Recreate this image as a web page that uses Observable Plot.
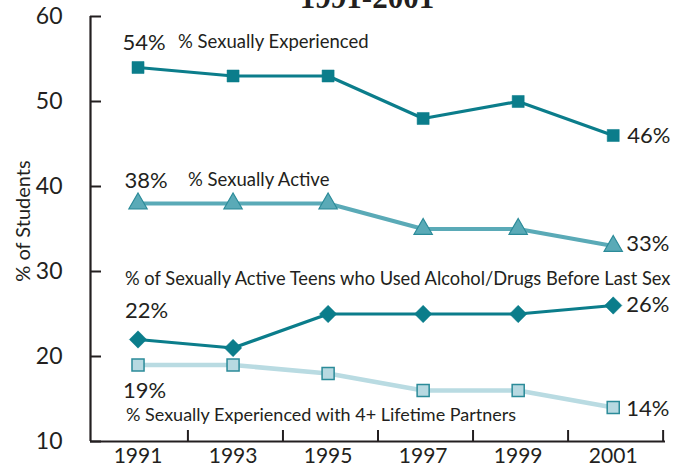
<!DOCTYPE html>
<html>
<head>
<meta charset="utf-8">
<script src="https://cdn.jsdelivr.net/npm/d3@7"></script>
<script src="https://cdn.jsdelivr.net/npm/@observablehq/plot@0.6"></script>
<style>
  html, body { margin: 0; padding: 0; background: #fff; }
  #chart { width: 685px; height: 469px; overflow: hidden; }
</style>
</head>
<body>
<div id="chart"></div>
<script>
const years = [1991, 1993, 1995, 1997, 1999, 2001];
const experienced = [54, 53, 53, 48, 50, 46];
const active = [38, 38, 38, 35, 35, 33];
const alcohol = [22, 21, 25, 25, 25, 26];
const partners = [19, 19, 18, 16, 16, 14];
const yTicks = [10, 20, 30, 40, 50, 60];
const xTickLabels = ["1991", "1993", "1995", "1997", "1999", "2001"];
const seriesNames = [
  "% Sexually Experienced",
  "% Sexually Active",
  "% of Sexually Active Teens who Used Alcohol/Drugs Before Last Sex",
  "% Sexually Experienced with 4+ Lifetime Partners"
];
const title = "1991-2001";
const yLabel = "% of Students";

const FONT = "Lato, 'Noto Sans', sans-serif";
const TXT = "#231f20";
const DARK = "#0b7d8b";
const MID = "#5aaab7";
const MIDSTROKE = "#2b8b99";
const LIGHT = "#b9dbe2";
const LIGHTFILL = "#b7d9e1";

const rows = (vals) => years.map((x, i) => ({x, y: vals[i]}));
const first = (vals) => [{x: years[0], y: vals[0]}];
const last = (vals) => [{x: years[years.length - 1], y: vals[vals.length - 1]}];
const pct = (v) => v + "%";

// tick boundaries between the year labels
const xBoundaries = years.map(y => y + 1.05);

function label(data, text, dx, dy, anchor, size) {
  return Plot.text(data, {x: "x", y: "y", text: () => text, dx, dy, textAnchor: anchor,
    fontSize: size, fill: TXT, fontFamily: FONT});
}

const W = 685, H = 469, mL = 90, mR = 20, mT = 16, mB = 28;

const plot = Plot.plot({
  width: W, height: H,
  marginLeft: mL, marginRight: mR, marginTop: mT, marginBottom: mB,
  style: {fontFamily: FONT, color: TXT, background: "white", overflow: "visible"},
  x: {domain: [1990, 2002.1]},
  y: {domain: [10, 60]},
  marks: [
    // axes
    Plot.axisY({ticks: yTicks, tickSize: 0, tickPadding: 28, fontSize: 23, label: null}),
    Plot.axisX({ticks: years, tickSize: 0, tickPadding: 7, fontSize: 21, label: null,
      tickFormat: (d) => xTickLabels[years.indexOf(d)]}),
    Plot.tickY(yTicks, {y: d => d, stroke: TXT, strokeWidth: 2, insetRight: W - mL - mR - 11}),
    Plot.tickX(xBoundaries, {x: d => d, stroke: TXT, strokeWidth: 2, insetTop: H - mT - mB - 11}),
    Plot.ruleX([1990], {stroke: TXT, strokeWidth: 2.2}),
    Plot.ruleY([10], {stroke: TXT, strokeWidth: 2.2, x1: 1990, x2: 2002.1}),
    Plot.text([yLabel], {frameAnchor: "left", textAnchor: "middle", text: d => d, rotate: -90, dx: -67, dy: -8,
      fontSize: 20, fill: TXT, fontFamily: FONT}),
    Plot.text([title], {frameAnchor: "top", lineAnchor: "bottom", text: d => d, dy: -9, dx: -11, fontSize: 31, fontWeight: "bold",
      fontFamily: "'Liberation Serif', serif", fill: TXT}),

    // series lines
    Plot.line(rows(partners), {x: "x", y: "y", stroke: LIGHT, strokeWidth: 4.5}),
    Plot.line(rows(alcohol), {x: "x", y: "y", stroke: DARK, strokeWidth: 3.2}),
    Plot.line(rows(active), {x: "x", y: "y", stroke: MID, strokeWidth: 4}),
    Plot.line(rows(experienced), {x: "x", y: "y", stroke: DARK, strokeWidth: 3.2}),

    // markers
    Plot.dot(rows(partners), {x: "x", y: "y", symbol: "square", r: 6.8, fill: LIGHTFILL, stroke: MIDSTROKE, strokeWidth: 1.5}),
    Plot.dot(rows(alcohol), {x: "x", y: "y", symbol: "diamond2", r: 7.8, fill: DARK, stroke: DARK, strokeWidth: 0.5}),
    Plot.dot(rows(active), {x: "x", y: "y", symbol: "triangle", r: 6.8, fill: MID, stroke: MIDSTROKE, strokeWidth: 1.2}),
    Plot.dot(rows(experienced), {x: "x", y: "y", symbol: "square", r: 6.8, fill: DARK, stroke: DARK, strokeWidth: 0.5}),

    // annotations
    label(first(experienced), pct(experienced[0]), 6, -25, "middle", 22),
    label(first(experienced), seriesNames[0], 40, -25, "start", 18.5),
    label(last(experienced), pct(experienced[5]), 14, 0, "start", 22),

    label(first(active), pct(active[0]), 8, -23, "middle", 22),
    label(first(active), seriesNames[1], 50, -23, "start", 18.5),
    label(last(active), pct(active[5]), 13, -2, "start", 22),

    label(first(alcohol), seriesNames[2], -13, -60, "start", 18.3),
    label(first(alcohol), pct(alcohol[0]), -13, -29, "start", 22),
    label(last(alcohol), pct(alcohol[5]), 13, -1, "start", 22),

    label(first(partners), pct(partners[0]), -15, 26, "start", 22),
    label(first(partners), seriesNames[3], -12, 50, "start", 18),
    label(last(partners), pct(partners[5]), 13, 1, "start", 22)
  ]
});

document.getElementById("chart").appendChild(plot);
</script>
</body>
</html>
